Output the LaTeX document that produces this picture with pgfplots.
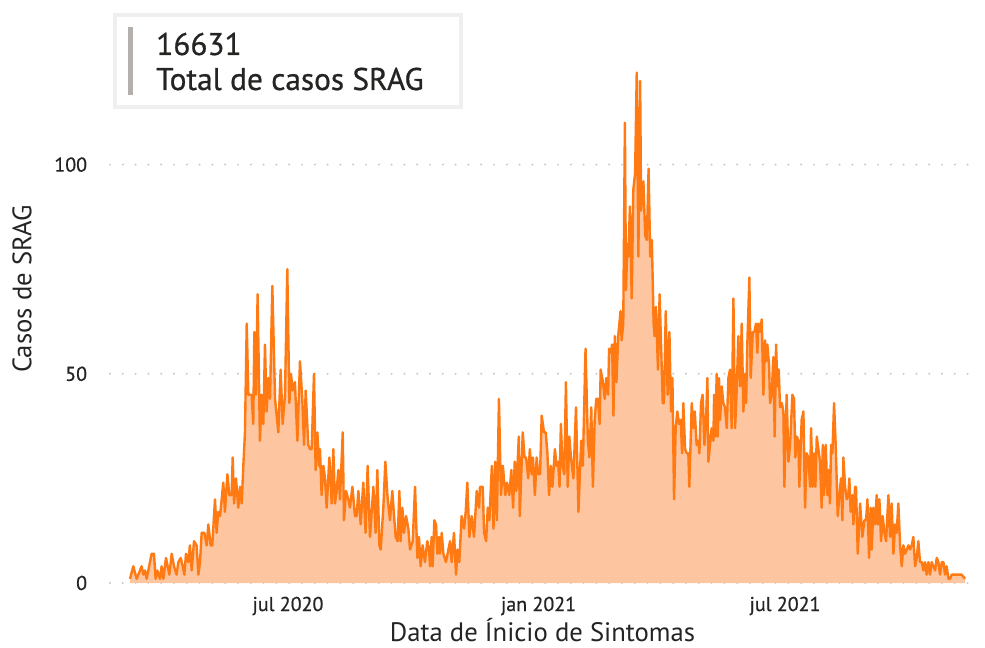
\documentclass[border=0pt]{standalone}
\usepackage{fontspec}
\setmainfont{PT Sans}
\newfontfamily\medfont[FakeBold=0.7]{PT Sans}
\usepackage{pgfplots}
\usepackage{pgfplotstable}
\pgfplotsset{compat=1.18}
\definecolor{lineor}{HTML}{FF7A12}
\definecolor{fillor}{HTML}{FDC6A0}
\definecolor{gridg}{HTML}{C8C6C4}
\definecolor{cardb}{HTML}{EFEFEF}
\definecolor{barg}{HTML}{B3B0AD}
\definecolor{txt}{HTML}{252423}
\pgfplotstableread[row sep=\\]{
day cases\\
66.0 1\\ 68.4 4\\ 70.9 1\\ 74.5 4\\ 75.8 2\\ 77.0 3\\ 78.2 1\\ 81.9 7\\ 83.6 7\\ 84.8 1\\
86.0 3\\ 88.0 1\\ 89.2 4\\ 90.5 1\\ 92.4 6\\ 94.9 2\\ 96.6 7\\ 98.3 4\\ 100.2 2\\ 101.5 5\\
103.2 6\\ 104.7 4\\ 105.9 2\\ 107.1 7\\ 108.8 5\\ 110.0 9\\ 111.3 3\\ 113.0 10\\ 114.9 9\\ 116.2 2\\
117.4 5\\ 118.6 12\\ 120.6 12\\ 122.3 9\\ 123.5 14\\ 125.2 9\\ 126.4 9\\ 128.4 20\\ 129.6 12\\ 130.8 17\\
132.1 16\\ 133.3 20\\ 134.5 24\\ 135.7 17\\ 137.5 26\\ 138.9 21\\ 140.6 21\\ 141.4 30\\ 142.4 19\\ 143.8 25\\
145.5 18\\ 146.8 23\\ 148.0 19\\ 149.2 28\\ 150.4 36\\ 151.7 62\\ 152.9 45\\ 154.1 45\\ 155.3 45\\ 156.5 38\\
157.3 60\\ 158.5 45\\ 159.7 69\\ 161.4 34\\ 162.7 45\\ 163.9 38\\ 165.1 57\\ 166.3 41\\ 167.6 49\\ 168.8 44\\
170.5 71\\ 172.5 44\\ 174.9 36\\ 176.6 51\\ 178.1 38\\ 179.8 45\\ 181.5 75\\ 183.0 43\\ 184.2 50\\ 185.4 46\\
187.1 48\\ 188.9 34\\ 190.8 53\\ 192.5 44\\ 193.8 33\\ 195.0 46\\ 196.9 33\\ 198.2 32\\ 199.4 32\\ 201.1 50\\
202.3 27\\ 203.6 36\\ 204.8 28\\
205.5 32\\ 206.7 21\\ 208.0 28\\ 209.2 25\\ 210.4 18\\ 212.4 30\\ 214.1 19\\ 215.3 32\\ 216.5 19\\ 217.7 22\\
219.0 27\\ 220.2 20\\ 222.2 36\\ 223.1 15\\ 224.6 22\\ 226.3 20\\ 227.5 18\\ 229.3 23\\ 231.2 16\\ 232.4 16\\
233.7 22\\ 235.4 14\\ 237.3 24\\ 239.0 12\\ 240.5 28\\ 242.2 11\\ 244.7 23\\ 246.4 12\\ 247.6 27\\ 249.1 9\\
250.1 8\\ 252.0 18\\ 253.5 29\\ 255.0 21\\ 256.9 15\\ 258.6 22\\ 259.9 16\\ 261.1 11\\ 262.5 10\\ 263.8 22\\
264.7 10\\ 266.0 18\\ 267.2 12\\ 268.7 16\\ 270.4 13\\ 271.6 8\\ 273.6 10\\ 275.3 23\\ 277.0 6\\ 278.2 11\\
279.4 4\\ 280.9 9\\ 282.6 5\\ 284.3 10\\ 285.6 8\\ 286.3 4\\ 287.5 11\\ 288.2 4\\ 289.5 15\\ 290.7 14\\
291.7 7\\ 292.9 11\\ 293.6 7\\ 294.9 12\\ 296.1 7\\ 298.0 5\\ 299.8 8\\ 301.0 10\\ 302.2 5\\ 303.9 12\\
305.4 2\\ 306.6 8\\ 307.8 5\\ 309.5 16\\ 311.3 13\\ 312.5 17\\ 313.7 24\\ 315.2 11\\ 316.9 16\\ 318.6 11\\
320.6 22\\ 322.3 18\\
323.0 23\\ 325.0 23\\ 326.0 12\\ 327.5 10\\ 328.7 18\\ 329.9 15\\ 331.7 28\\ 332.9 13\\ 334.1 29\\ 335.4 15\\
336.9 44\\ 338.4 21\\ 339.8 28\\ 341.6 21\\ 342.8 24\\ 344.5 21\\ 346.0 27\\ 347.3 18\\ 348.5 29\\ 349.7 22\\
351.5 35\\ 352.2 16\\ 354.4 36\\ 355.7 30\\ 356.9 30\\ 358.4 25\\ 359.6 32\\ 360.9 26\\ 361.9 30\\ 363.3 21\\
364.6 30\\ 365.8 26\\ 367.1 26\\ 368.3 40\\ 370.0 36\\ 371.3 36\\ 372.5 31\\ 373.7 21\\ 375.0 28\\ 376.2 23\\
378.0 32\\ 379.2 28\\ 380.4 29\\ 381.4 23\\ 382.4 38\\ 383.6 28\\ 384.9 26\\ 386.1 48\\ 387.4 23\\ 388.6 35\\
389.8 30\\ 391.6 25\\ 393.5 42\\ 395.3 17\\ 397.3 34\\ 398.5 28\\ 400.5 56\\ 402.2 34\\ 403.4 30\\ 404.7 42\\
405.9 23\\ 407.2 39\\ 408.4 44\\ 409.6 44\\ 410.9 38\\ 411.6 51\\ 413.3 48\\ 414.6 44\\ 415.8 49\\ 417.1 45\\
417.8 56\\ 419.0 55\\ 420.0 57\\ 421.0 40\\ 422.0 59\\ 423.2 48\\ 424.5 59\\ 426.2 65\\ 427.0 58\\ 428.2 62\\
429.4 110\\ 430.2 70\\ 431.2 81\\ 431.9 78\\ 433.1 90\\ 434.4 68\\ 435.6 94\\ 436.9 98\\ 438.1 122\\ 439.3 78\\
440.6 120\\ 441.3 89\\ 443.0 96\\ 444.3 83\\ 445.5 82\\ 446.8 99\\ 448.0 78\\ 449.2 82\\ 450.5 62\\ 451.2 59\\
452.2 66\\ 453.7 51\\ 454.9 69\\
457.2 43\\ 458.1 43\\ 459.4 65\\ 460.8 45\\ 462.1 60\\ 463.3 41\\ 464.3 49\\ 465.5 20\\ 466.7 37\\ 467.9 41\\
469.2 38\\ 470.4 39\\ 471.4 31\\ 472.3 43\\ 473.6 32\\ 474.8 31\\ 476.0 31\\ 476.7 23\\ 478.5 43\\ 479.7 37\\
480.7 41\\ 482.1 33\\ 483.4 34\\ 484.1 31\\ 485.3 43\\ 486.5 45\\ 487.8 33\\ 489.0 39\\ 490.0 49\\ 490.7 29\\
491.9 33\\ 493.1 37\\ 494.4 34\\ 494.9 45\\ 495.8 35\\ 496.8 50\\ 497.6 35\\ 498.5 49\\ 499.3 39\\ 500.5 47\\
501.7 43\\ 502.9 42\\ 504.2 37\\ 505.4 49\\ 506.6 51\\ 507.8 37\\ 509.1 68\\ 510.3 37\\ 511.5 46\\ 512.7 59\\
514.0 47\\ 515.2 62\\ 516.4 41\\ 517.6 50\\ 518.4 43\\ 519.3 57\\ 520.8 73\\ 521.8 49\\ 523.3 60\\ 524.5 60\\
525.7 62\\ 526.7 55\\ 527.4 62\\ 528.6 60\\ 529.9 63\\ 531.1 45\\ 532.3 58\\ 533.1 53\\ 534.0 57\\ 535.3 52\\
536.0 43\\ 537.2 45\\ 538.4 54\\ 539.4 35\\ 540.4 57\\ 541.4 47\\ 542.4 51\\ 543.3 42\\ 544.6 43\\ 545.8 41\\
546.5 23\\ 548.2 45\\ 549.5 29\\ 550.7 33\\ 552.4 45\\ 553.6 44\\ 554.6 30\\ 555.6 35\\ 556.8 34\\ 557.5 23\\
559.2 39\\ 560.5 41\\ 561.7 18\\ 562.9 31\\ 564.1 30\\ 565.4 23\\ 566.1 37\\ 567.3 23\\ 568.3 31\\ 569.3 23\\
570.3 35\\
572.7 29\\ 573.9 18\\ 574.7 33\\ 575.6 21\\ 576.9 33\\ 578.1 21\\ 578.8 27\\ 580.0 19\\ 580.8 33\\ 581.8 31\\
583.0 43\\ 584.2 33\\ 585.7 16\\ 586.9 21\\ 588.1 25\\ 589.1 15\\ 589.8 30\\ 591.1 23\\ 592.3 20\\ 593.5 21\\
594.2 25\\ 595.2 17\\ 596.5 21\\ 597.2 14\\ 598.4 23\\ 599.1 23\\ 600.4 7\\ 602.1 19\\ 603.8 11\\ 605.3 15\\
606.5 15\\ 607.5 20\\ 608.7 6\\ 609.9 18\\ 610.6 8\\ 611.9 18\\ 613.1 14\\ 614.3 21\\ 615.1 14\\ 616.3 20\\
617.5 10\\ 618.7 16\\ 620.0 12\\ 621.2 10\\ 622.9 21\\ 624.1 11\\ 625.3 19\\ 626.6 7\\ 627.8 14\\ 629.0 12\\
630.2 19\\ 631.5 9\\ 632.7 4\\ 633.9 9\\ 635.1 7\\ 636.4 8\\ 637.6 9\\ 638.8 8\\ 640.0 9\\ 641.2 11\\
642.5 4\\ 643.7 6\\ 644.9 10\\ 646.1 5\\ 647.4 5\\ 648.6 3\\ 649.8 5\\ 651.0 2\\ 652.3 5\\ 653.5 2\\
654.7 5\\ 655.9 4\\ 657.2 3\\ 658.4 6\\ 659.6 5\\ 660.8 2\\ 662.1 5\\ 663.3 5\\ 664.5 2\\ 665.7 4\\
667.0 1\\ 668.2 1\\ 669.4 2\\ 671.8 2\\ 674.3 2\\ 676.7 2\\ 679.2 1\\
}\srag
\begin{document}
\begin{tikzpicture}
\path[use as bounding box] (0,0) rectangle (738.75pt,485.25pt);
\begin{axis}[
  at={(82.5pt,48pt)}, anchor=south west,
  scale only axis, width=648.75pt, height=392.25pt,
  xmin=51.3, xmax=686.5, ymin=0, ymax=125,
  axis line style={draw=none},
  major tick length=0pt,
  xtick={182,366,547},
  xticklabels={jul 2020, jan 2021, jul 2021},
  ytick={0,50,100},
  /pgf/number format/assume math mode=true,
  tick label style={font=\medfont\fontsize{15}{18}\selectfont, text=txt},
  xticklabel style={inner sep=0pt, anchor=base, yshift=-21pt},
  yticklabel style={inner sep=0pt, anchor=east, xshift=-17pt},
  ymajorgrids,
  major grid style={draw=gridg, line width=1.6pt, dash pattern=on 0pt off 9.6pt, line cap=round},
  xlabel={Data de Ínicio de Sintomas},
  ylabel={Casos de SRAG},
  label style={font=\fontsize{20}{24}\selectfont, text=txt},
  xlabel style={at={(axis description cs:0.5,0)}, anchor=base, inner sep=0pt, yshift=-43.5pt},
  ylabel style={at={(axis description cs:-0.1017,0.562)}, anchor=center},
]
\addplot[fill=fillor, draw=none] table[x=day, y=cases] {\srag} \closedcycle;
\addplot[draw=lineor, line width=1.8pt, line join=round] table[x=day, y=cases] {\srag};
\end{axis}
\draw[cardb, line width=3pt] (86.25pt,405pt) rectangle (345.75pt,474pt);
\fill[barg] (96pt,414pt) rectangle (99.75pt,465pt);
\node[anchor=base west, inner sep=0pt, text=txt, font=\medfont\fontsize{23.5}{28}\selectfont] at (117pt,444pt) {16631};
\node[anchor=base west, inner sep=0pt, text=txt, font=\medfont\fontsize{23.5}{28}\selectfont] at (117pt,417.75pt) {Total de casos SRAG};
\end{tikzpicture}
\end{document}
